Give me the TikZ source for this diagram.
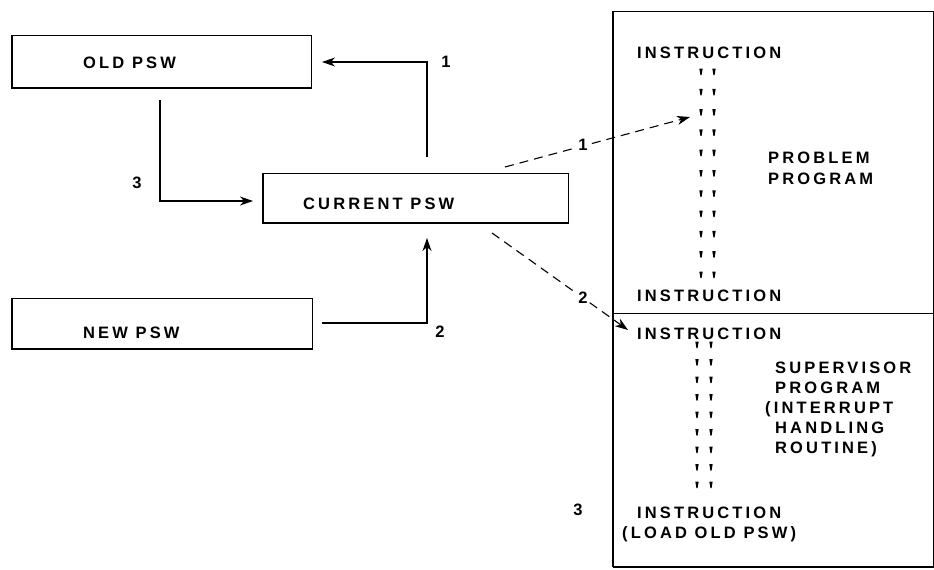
\documentclass[tikz,border=0pt]{standalone}
\usepackage{fontspec}
\setmainfont{Liberation Sans}
\newfontfamily\dfont[LetterSpace=19]{Liberation Sans Bold}
\newfontfamily\nfont{Liberation Sans Bold}
\usetikzlibrary{arrows.meta}
\begin{document}
\begin{tikzpicture}[x=1pt,y=-1pt,
  box/.style={draw, line width=0.8pt, inner sep=0pt, outer sep=0pt},
  heavy/.style={line width=2.6pt, line join=miter},
  lbl/.style={anchor=base west, inner sep=0pt, font=\dfont\fontsize{16.5}{18}\selectfont},
  num/.style={anchor=center, inner sep=1.5pt, font=\nfont\fontsize{16.5}{18}\selectfont},
  conn/.style={line width=1.1pt, -{Stealth[length=13pt,width=9pt,inset=4pt]}},
  dconn/.style={conn, dash pattern=on 9pt off 6pt}]
\useasboundingbox (0,0) rectangle (934,570);

% boxes
\node[box, minimum width=299pt, minimum height=53pt] (old) at (161.5,61.5) {};
\node[box, minimum width=305pt, minimum height=50pt] (cur) at (415.5,198) {};
\node[box, minimum width=300pt, minimum height=51pt] (new) at (162,323.5) {};
\node[box, minimum width=320pt, minimum height=302pt] (prob) at (773,162) {};
\node[box, minimum width=320pt, minimum height=254pt] (sup) at (773,440) {};
\draw[heavy] (old.north west) -- (old.south west) -- (old.south east);
\draw[heavy] (cur.north west) -- (cur.south west) -- (cur.south east);
\draw[heavy] (new.north west) -- (new.south west) -- (new.south east);
\draw[heavy] (prob.north west) -- (prob.south west);
\draw[heavy] (sup.north west) -- (sup.south west);
\draw[line width=1.8pt] (sup.south west) -- (sup.south east);

% box texts
\node[lbl] (told) at (83,68) {OLD PSW};
\node[lbl] (tcur) at (303,209) {CURRENT PSW};
\node[lbl] (tnew) at (83,338) {NEW PSW};
\node[lbl] (i1) at (637,58) {INSTRUCTION};
\node[lbl] (i2) at (637,301) {INSTRUCTION};
\node[lbl] (pp1) at (768,163) {PROBLEM};
\node[lbl] (pp2) at (768,184) {PROGRAM};
\node[lbl] (i3) at (637,339) {INSTRUCTION};
\node[lbl] (s1) at (775,373) {SUPERVISOR};
\node[lbl] (s2) at (775,393) {PROGRAM};
\node[lbl] (s3) at (765,413) {(INTERRUPT};
\node[lbl] (s4) at (775,433) {HANDLING};
\node[lbl] (s5) at (775,453) {ROUTINE)};
\node[lbl] (i4) at (637,518) {INSTRUCTION};
\node[lbl] (i5) at (622,538) {(LOAD OLD PSW)};

% instruction marks
\foreach \i in {0,...,10} {
  \pgfmathsetmacro\yy{72+20.3*\i}
  \foreach \xx in {701,714}
    \fill (\xx-1.7,\yy-3.5) -- (\xx+1.7,\yy-3.5) -- (\xx+0.6,\yy+3) -- (\xx-0.6,\yy+3) -- cycle;
}
\foreach \i in {0,...,8} {
  \pgfmathsetmacro\yy{345+17.5*\i}
  \foreach \xx in {697,711}
    \fill (\xx-1.7,\yy-3.5) -- (\xx+1.7,\yy-3.5) -- (\xx+0.6,\yy+3) -- (\xx-0.6,\yy+3) -- cycle;
}

% connectors
\coordinate (a1s) at (427,157);
\coordinate (a1e) at (322,62);
\coordinate (a3s) at (160,100);
\coordinate (a3e) at (253,201);
\coordinate (a2s) at (322,323);
\coordinate (a2e) at (427,238);
\coordinate (d1s) at (505,167);
\coordinate (d1e) at (690,117);
\coordinate (d2s) at (492,233);
\coordinate (d2e) at (628,330);
\draw[conn] (a1s) |- (a1e);
\draw[conn] (a3s) |- (a3e);
\draw[conn] (a2s) -| (a2e);
\draw[dconn] (d1s) -- (d1e);
\draw[dconn] (d2s) -- (d2e);

% step numbers
\node[num] (n1) at (446,62) {1};
\node[num] (n3) at (137,183) {3};
\node[num] (n2) at (440,332) {2};
\node[num, fill=white] (m1) at (583,145) {1};
\node[num, fill=white] (m2) at (583,298) {2};
\node[num] (m3) at (578,510) {3};
\end{tikzpicture}
\end{document}
